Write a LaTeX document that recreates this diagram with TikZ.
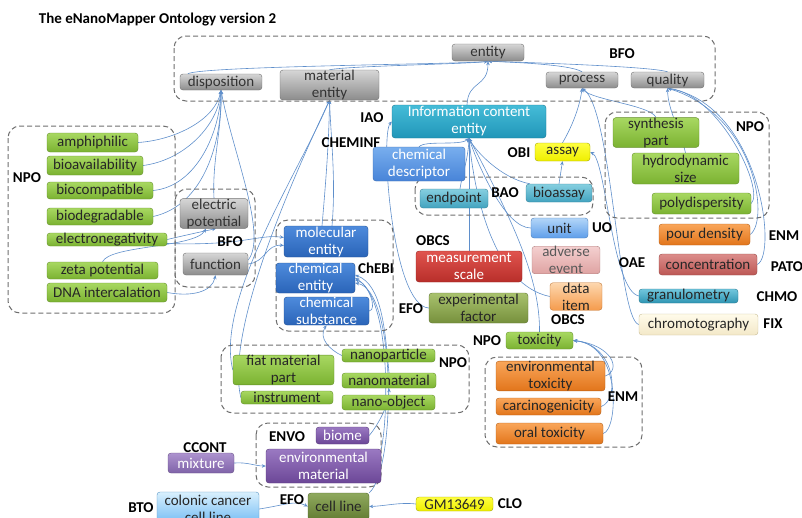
\documentclass[tikz,border=0pt]{standalone}
\usepackage{fontspec}
\setmainfont{Carlito}
\usetikzlibrary{arrows.meta,calc,backgrounds}
\definecolor{lnk}{HTML}{5F8FCB}
\definecolor{grpc}{HTML}{6E6E6E}
\definecolor{txd}{HTML}{262626}
\definecolor{gryT}{HTML}{D6D6D6}\definecolor{gryB}{HTML}{8C8C8C}
\definecolor{grnT}{HTML}{A8D862}\definecolor{grnB}{HTML}{7BB231}
\definecolor{icT}{HTML}{45BCD8}\definecolor{icB}{HTML}{2196B8}
\definecolor{cdT}{HTML}{78AEEE}\definecolor{cdB}{HTML}{4884D8}
\definecolor{epT}{HTML}{86CFE0}\definecolor{epB}{HTML}{42A3BF}
\definecolor{ayT}{HTML}{FFFF40}\definecolor{ayB}{HTML}{EEEE00}
\definecolor{uT}{HTML}{B3D6F8}\definecolor{uB}{HTML}{5E9EEA}
\definecolor{msT}{HTML}{E0544E}\definecolor{msB}{HTML}{B82E2A}
\definecolor{aeT}{HTML}{F4D0D0}\definecolor{aeB}{HTML}{DFA3A2}
\definecolor{diT}{HTML}{FDD7AE}\definecolor{diB}{HTML}{F59B4C}
\definecolor{efT}{HTML}{A9C26E}\definecolor{efB}{HTML}{76903C}
\definecolor{chT}{HTML}{4E8BDC}\definecolor{chB}{HTML}{2A64B8}
\definecolor{orT}{HTML}{F9A65A}\definecolor{orB}{HTML}{E2751B}
\definecolor{coT}{HTML}{DC8D8B}\definecolor{coB}{HTML}{BC5754}
\definecolor{grT}{HTML}{72C7DD}\definecolor{grB}{HTML}{2E95B3}
\definecolor{cmT}{HTML}{FFFBEA}\definecolor{cmB}{HTML}{F3E8C8}\definecolor{cmD}{HTML}{C8BC95}
\definecolor{puT}{HTML}{9A79C2}\definecolor{puB}{HTML}{6C4797}
\definecolor{mxT}{HTML}{AD93CF}\definecolor{mxB}{HTML}{7F63A8}
\definecolor{clT}{HTML}{8FA95E}\definecolor{clB}{HTML}{637C32}
\definecolor{ccT}{HTML}{D9F0FD}\definecolor{ccB}{HTML}{6CB8F3}
\newcommand\fs{\fontsize{15}{17}\selectfont}
\newcommand\bx[7]{\node[#1,minimum width={(#5-#3)*1pt},minimum height={(#6-#4)*1pt}] (#2) at ({(#3+#5)/2},{(#4+#6)/2}) {#7};}
\tikzset{
 box/.style={rounded corners=3pt,inner sep=0pt,align=center,font=\fs,text=txd,line width=0.4pt},
 gry/.style={box,top color=gryT,bottom color=gryB,draw=gryB!80!black,text=black!80},
 grn/.style={box,top color=grnT,bottom color=grnB,draw=grnB!80!black},
 ice/.style={box,top color=icT,bottom color=icB,draw=icB!80!black,text=white},
 cds/.style={box,top color=cdT,bottom color=cdB,draw=cdB!80!black,text=white},
 ept/.style={box,top color=epT,bottom color=epB,draw=epB!80!black},
 yel/.style={box,top color=ayT,bottom color=ayB,draw=ayB!70!black},
 unt/.style={box,top color=uT,bottom color=uB,draw=uB!80!black},
 msc/.style={box,top color=msT,bottom color=msB,draw=msB!80!black,text=white},
 ade/.style={box,top color=aeT,bottom color=aeB,draw=aeB!80!black,text=black!65},
 dit/.style={box,top color=diT,bottom color=diB,draw=diB!80!black},
 efc/.style={box,top color=efT,bottom color=efB,draw=efB!80!black},
 chb/.style={box,top color=chT,bottom color=chB,draw=chB!80!black,text=white},
 org/.style={box,top color=orT,bottom color=orB,draw=orB!80!black},
 con/.style={box,top color=coT,bottom color=coB,draw=coB!80!black},
 gra/.style={box,top color=grT,bottom color=grB,draw=grB!80!black},
 chm/.style={box,top color=cmT,bottom color=cmB,draw=cmD},
 pur/.style={box,top color=puT,bottom color=puB,draw=puB!80!black,text=white},
 mix/.style={box,top color=mxT,bottom color=mxB,draw=mxB!80!black,text=white},
 cln/.style={box,top color=clT,bottom color=clB,draw=clB!80!black},
 ccl/.style={box,top color=ccT,bottom color=ccB,draw=ccB!80!black},
 lbl/.style={font=\fs\bfseries,text=black,inner sep=0pt},
 grp/.style={draw=grpc,dash pattern=on 5pt off 3pt,line width=1pt,rounded corners=12pt},
 ln/.style={draw=lnk,line width=0.6pt,-{Stealth[length=4pt,width=3.5pt]}}
}
\begin{document}
\begin{tikzpicture}[x=1pt,y=-1pt]
\useasboundingbox (0,0) rectangle (802,517);
\clip (0,0) rectangle (802,517);
\node[font=\fontsize{15}{17}\selectfont\bfseries,inner sep=0pt] (title) at (157.5,20) {The eNanoMapper Ontology version 2};
% groups
\draw[grp] (174,36) rectangle (715,101);
\draw[grp] (8,126) rectangle (175,313);
\draw[grp] (175,189) rectangle (255,287);
\draw[grp] (276,220) rectangle (393,331);
\draw[grp] (415,177) rectangle (593,215);
\draw[grp] (605,112) rectangle (769,218);
\draw[grp] (221,345) rectangle (469,413);
\draw[grp] (256,423) rectangle (381,487);
\draw[grp] (485,357) rectangle (642,447);
% BFO top
\bx{gry}{entity}{452}{44}{524}{61}{entity}
\bx{gry}{process}{546}{72}{618}{88}{process}
\bx{gry}{quality}{631}{72}{704}{88}{quality}
\bx{gry}{disp}{180}{74}{262}{90}{disposition}
\bx{gry}{matent}{280}{70}{379}{100}{material\\entity}
\node[lbl] (lbfo1) at (622,54) {BFO};
% IAO etc
\bx{ice}{ice}{392}{105}{546}{138}{Information content\\entity}
\node[lbl] (liao) at (372,118) {IAO};
\bx{cds}{chemdesc}{373}{147}{465}{181}{chemical\\descriptor}
\node[lbl] (lcheminf) at (351,143) {CHEMINF};
\node[lbl] (lobi) at (519,153) {OBI};
\bx{yel}{assay}{535}{143}{590}{161}{assay}
\bx{ept}{endpoint}{420}{189}{488}{208}{endpoint}
\node[lbl] (lbao) at (505,193) {BAO};
\bx{ept}{bioassay}{526}{184}{592}{202}{bioassay}
\bx{unt}{unit}{531}{218}{588}{238}{unit}
\node[lbl] (luo) at (602,228) {UO};
\node[lbl] (lobcs1) at (433,241) {OBCS};
\bx{msc}{meas}{416}{251}{522}{282}{measurement\\scale}
\bx{ade}{adverse}{532}{247}{600}{273}{adverse\\event}
\node[lbl] (loae) at (632,263) {OAE};
\bx{dit}{dataitem}{550}{283}{602}{310}{data\\item}
\node[lbl] (lobcs2) at (568,320) {OBCS};
\bx{efc}{expfac}{429}{293}{528}{323}{experimental\\factor}
\node[lbl] (lefo1) at (411,309) {EFO};
% right NPO
\bx{grn}{synth}{613}{118}{699}{147}{synthesis\\part}
\node[lbl] (lnpo2) at (750,127) {NPO};
\bx{grn}{hydro}{632}{153}{739}{184}{hydrodynamic\\size}
\bx{grn}{polyd}{652}{193}{751}{214}{polydispersity}
\bx{org}{pour}{659}{224}{750}{245}{pour density}
\node[lbl] (lenm1) at (784,236) {ENM};
\bx{con}{conc}{659}{254}{757}{275}{concentration}
\node[lbl] (lpato) at (787,267) {PATO};
\bx{gra}{granul}{639}{289}{738}{303}{granulometry}
\node[lbl] (lchmo) at (777,297) {CHMO};
\bx{chm}{chromo}{639}{314}{758}{335}{chromotography}
\node[lbl] (lfix) at (773,324) {FIX};
% left NPO
\node[lbl] (lnpo1) at (27,178) {NPO};
\bx{grn}{amph}{47}{133}{138}{152}{amphiphilic}
\bx{grn}{bioav}{47}{156}{143}{175}{bioavailability}
\bx{grn}{biocomp}{47}{182}{153}{199}{biocompatible}
\bx{grn}{biodeg}{47}{208}{153}{225}{biodegradable}
\bx{grn}{elneg}{47}{233}{167}{246}{electronegativity}
\bx{grn}{zeta}{47}{262}{158}{279}{zeta potential}
\bx{grn}{dna}{47}{283}{167}{302}{DNA intercalation}
\bx{gry}{elpot}{180}{199}{248}{228}{electric\\potential}
\node[lbl] (lbfo2) at (230,242) {BFO};
\bx{gry}{func}{183}{253}{248}{275}{function}
% ChEBI
\bx{chb}{molec}{284}{226}{368}{257}{molecular\\entity}
\bx{chb}{chement}{276}{263}{355}{293}{chemical\\entity}
\bx{chb}{chemsub}{284}{297}{369}{325}{chemical\\substance}
\node[lbl] (lchebi) at (376,268) {ChEBI};
% bottom NPO
\bx{grn}{fiat}{233}{356}{334}{384}{fiat material\\part}
\bx{grn}{instr}{241}{391}{333}{404}{instrument}
\bx{grn}{nanopart}{342}{349}{435}{362}{nanoparticle}
\bx{grn}{nanomat}{342}{373}{436}{388}{nanomaterial}
\bx{grn}{nanoobj}{342}{395}{435}{410}{nano-object}
\node[lbl] (lnpo3) at (453,363) {NPO};
% ENVO
\node[lbl] (lenvo) at (287,437) {ENVO};
\bx{pur}{biome}{316}{427}{369}{444}{biome}
\bx{pur}{envmat}{266}{449}{381}{483}{environmental\\material}
\node[lbl] (lccont) at (205,448) {CCONT};
\bx{mix}{mixture}{168}{453}{234}{473}{mixture}
\node[lbl] (lefo2) at (292,500) {EFO};
\bx{cln}{cellline}{308}{493}{369}{520}{cell line}
\bx{ccl}{colonic}{157}{492}{259}{526}{colonic cancer\\cell line}
\node[lbl] (lbto) at (141,508) {BTO};
\bx{yel}{gm}{416}{497}{493}{511}{GM13649}
\node[lbl] (lclo) at (510,504) {CLO};
% toxicity
\node[lbl] (lnpo4) at (487,341) {NPO};
\bx{grn}{tox}{506}{332}{573}{349}{toxicity}
\bx{org}{envtox}{496}{362}{605}{390}{environmental\\toxicity}
\bx{org}{carc}{496}{398}{601}{415}{carcinogenicity}
\bx{org}{oral}{496}{423}{603}{444}{oral toxicity}
\node[lbl] (lenm2) at (623,397) {ENM};
% connectors
\begin{pgfonlayer}{background}
\draw[ln] ($(disp.north west)+(8,0)$) .. controls (200,66) and (470,64) .. (entity.south);
\draw[ln] (matent.north) .. controls (345,66) and (470,64) .. (entity.south);
\draw[ln] (process.north) .. controls (570,64) and (505,62) .. (entity.south);
\draw[ln] (quality.north) .. controls (650,66) and (510,62) .. (entity.south);
\draw[ln] ($(ice.north)+(-2,0)$) .. controls (468,80) and (488,88) .. (entity.south);
\draw[ln] (amph.east) .. controls (175,140) and (215,120) .. (disp.south);
\draw[ln] (bioav.east) .. controls (185,160) and (218,125) .. (disp.south);
\draw[ln] (biocomp.east) .. controls (198,186) and (220,130) .. (disp.south);
\draw[ln] (biodeg.east) .. controls (205,205) and (222,140) .. (disp.south);
\draw[ln] (elpot.north) .. controls (212,160) and (222,130) .. (disp.south);
\draw[ln] ($(func.east)+(0,-4)$) .. controls (268,235) and (232,150) .. (disp.south);
\draw[ln] (elneg.east) .. controls (182,236) and (200,232) .. ($(elpot.south)+(2,0)$);
\draw[ln] (zeta.north) .. controls (110,245) and (195,248) .. ($(elpot.south)+(-8,0)$);
\draw[ln] (dna.east) .. controls (192,297) and (212,292) .. (func.south);
\draw[ln] ($(elneg.east)+(0,4)$) .. controls (245,246) and (258,234) .. ($(molec.west)+(0,-4)$);
\draw[ln] (func.east) .. controls (266,262) and (266,244) .. ($(molec.west)+(0,4)$);
\draw[ln] ($(molec.north)+(-4,0)$) .. controls (326,180) and (329,140) .. (matent.south);
\draw[ln] ($(molec.north)+(6,0)$) .. controls (336,180) and (331,140) .. (matent.south);
\draw[ln] (fiat.west) .. controls (215,300) and (300,170) .. (matent.south);
\draw[ln] (instr.west) .. controls (225,330) and (292,180) .. (matent.south);
\draw[ln] (chemsub.east) .. controls (378,310) and (368,283) .. ($(chement.east)+(0,2)$);
\draw[ln] (nanopart.west) .. controls (330,350) and (318,338) .. (chemsub.south);
\draw[ln] (nanomat.north) .. controls (385,330) and (382,285) .. ($(chement.east)+(0,-3)$);
\draw[ln] (envmat.north east) .. controls (388,420) and (392,300) .. (chement.east);
\draw[ln] (cellline.north east) .. controls (396,470) and (397,290) .. ($(chement.east)+(0,5)$);
\draw[ln] (biome.east) .. controls (378,425) and (389,405) .. (nanomat.south);
\draw[ln] (mixture.east) .. controls (248,462) and (255,466) .. (envmat.west);
\draw[ln] (colonic.east) .. controls (285,505) and (295,500) .. (cellline.west);
\draw[ln] (gm.west) .. controls (400,502) and (385,506) .. (cellline.east);
\draw[ln] (chemdesc.north) .. controls (425,140) and (460,146) .. (ice.south);
\draw[ln] (expfac.west) .. controls (392,306) and (380,135) .. (ice.west);
\draw[ln] ($(endpoint.north)+(6,0)$) .. controls (462,175) and (468,160) .. (ice.south);
\draw[ln] (meas.north) -- (ice.south);
\draw[ln] ($(bioassay.north west)+(4,0)$) .. controls (500,178) and (475,150) .. (ice.south);
\draw[ln] (bioassay.north) -- (assay.south);
\draw[ln] (dataitem.west) .. controls (495,285) and (475,200) .. (ice.south);
\draw[ln] (unit.west) .. controls (505,228) and (478,165) .. (ice.south);
\draw[ln] (tox.north) .. controls (540,280) and (515,225) .. (ice.south);
\draw[ln] (assay.north) .. controls (573,125) and (580,105) .. (process.south);
\draw[ln] (granul.west) .. controls (612,290) and (606,160) .. (assay.east);
\draw[ln] (chromo.west) .. controls (618,320) and (612,110) .. (process.south);
\draw[ln] (synth.north) .. controls (650,105) and (592,100) .. (process.south);
\draw[ln] (hydro.north) .. controls (680,130) and (668,110) .. (quality.south);
\draw[ln] (polyd.east) .. controls (765,190) and (720,95) .. (quality.south);
\draw[ln] (pour.east) .. controls (770,220) and (755,115) .. (quality.south);
\draw[ln] (conc.east) .. controls (778,255) and (760,105) .. (quality.south);
\draw[ln] (envtox.east) .. controls (622,370) and (612,345) .. (tox.east);
\draw[ln] (carc.east) .. controls (620,400) and (616,345) .. (tox.east);
\draw[ln] (oral.east) .. controls (618,430) and (622,345) .. (tox.east);
\end{pgfonlayer}
\end{tikzpicture}
\end{document}
